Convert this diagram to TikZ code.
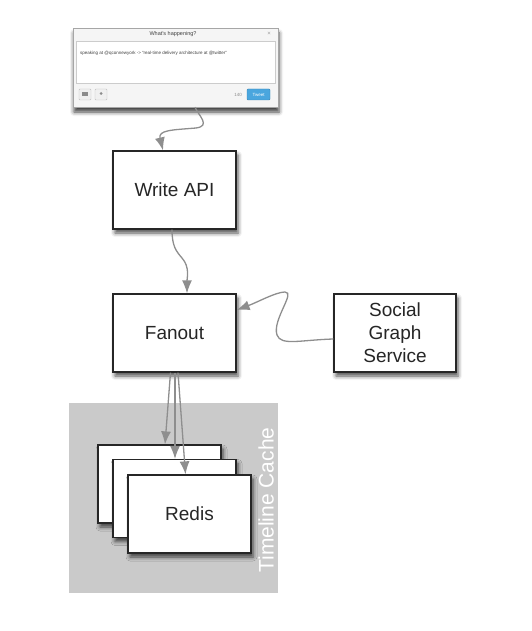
\documentclass[tikz,border=0pt]{standalone}
\usepackage{fontspec}
\setmainfont{Liberation Sans}
\usepackage{tikz}
\usetikzlibrary{arrows.meta, shadows.blur}
\tikzset{>={Latex[length=13pt,width=10pt]}}
\definecolor{linkgray}{HTML}{8E8E8E}
\definecolor{cachegray}{HTML}{CACACA}
\definecolor{tweetblue}{HTML}{4AA6DE}
\tikzstyle{box} = [draw=black!85, line width=1.2, fill=white, minimum width=123, minimum height=78, font=\fontsize{19}{23}\selectfont, text=black!85, align=center, blur shadow={shadow xshift=2pt, shadow yshift=-4pt, shadow opacity=70, shadow blur radius=4pt}]
\tikzstyle{link} = [->, draw=linkgray, line width=1.3, color=linkgray]
\tikzstyle{btn} = [draw=black!25, fill=black!6, line width=0.4, rounded corners=1pt]
\newcommand{\redisbox}[3]{
\node[box] (#1) at (#2) {#3};
}

\begin{document}
\begin{tikzpicture}[x=1pt, y=-1pt]
		\useasboundingbox (0,0) rectangle (531,631);
		
		% Tweet window
		\node[draw=black!35, fill=black!4, line width=0.5, minimum width=205, minimum height=79, blur shadow={shadow xshift=1pt, shadow yshift=-5pt, shadow opacity=75, shadow blur radius=4pt}] (tweet) at (175.5,67.5) {};
		\node[draw=black!20, fill=white, line width=0.4, minimum width=199, minimum height=42, inner sep=0] (field) at (175.5,62) {};
		\node[font=\fontsize{5.5}{6}\selectfont, text=black!75] (title) at (173,34) {What's happening?};
		\node[font=\fontsize{6}{6}\selectfont, text=black!40] (close) at (269,34) {×};
		\node[font=\fontsize{4.5}{5}\selectfont, text=black!75, anchor=west, inner sep=0] (msg) at (80,53) {speaking at @qconnewyork -> “real-time delivery architecture at @twitter”};
		\node[btn, minimum width=12, minimum height=11, inner sep=0] (camera) at (85,94.5) {};
		\node[fill=black!45, minimum width=6, minimum height=4, inner sep=0] at (camera) {};
		\node[btn, minimum width=12, minimum height=11, inner sep=0] (place) at (101,94.5) {};
		\node[fill=black!45, circle, minimum size=3, inner sep=0] at (101,93.5) {};
		\node[font=\fontsize{4.5}{5}\selectfont, text=black!45] (count) at (238,95) {140};
		\node[fill=tweetblue, draw=tweetblue!80!black, line width=0.4, rounded corners=1pt, minimum width=23, minimum height=11, inner sep=0, font=\fontsize{4.5}{5}\selectfont, text=white] (send) at (258.5,94.5) {Tweet};
		
		% Services
		\node[box] (write) at (174.5,190) {Write API};
		\node[box] (fanout) at (174.5,333) {Fanout};
		\node[box, minimum width=122] (social) at (395,333) {Social\\Graph\\Service};
		
		% Timeline cache
		\node[fill=cachegray, minimum width=209, minimum height=190, inner sep=0] (cache) at (173.5,498) {};
		\node[rotate=90, text=white, font=\fontsize{21}{21}\selectfont] (cachename) at (266,500) {Timeline Cache};
		\redisbox{redisA}{159.5,484}{}
		\redisbox{redisB}{174.5,498.5}{}
		\redisbox{redisC}{189.5,514}{Redis}
		
		% Connectors
		\draw[link] ([xshift=19.5]tweet.south) .. controls (199,116) and (211,126) .. (196,128) .. controls (172,130) and (158,130) .. ([xshift=-11.5]write.north);
		\draw[link] ([xshift=-2.5]write.south) .. controls (172,246) and (176,251) .. (182,258) .. controls (190,267) and (187,278) .. ([xshift=12.5]fanout.north);
		\draw[link] ([yshift=-6]social.west) .. controls (300,340) and (281,346) .. (277,335) .. controls (272,320) and (296,292) .. (285,292) .. controls (276,292) and (258,302) .. ([yshift=23]fanout.east);
		\draw[link] ([xshift=-4]fanout.south) -- ([xshift=5.5]redisA.north);
		\draw[link] ([xshift=0.5]fanout.south) -- ([xshift=0.5]redisB.north);
		\draw[link] ([xshift=3.5]fanout.south) -- ([xshift=-4]redisC.north);
	\end{tikzpicture}
\end{document}
